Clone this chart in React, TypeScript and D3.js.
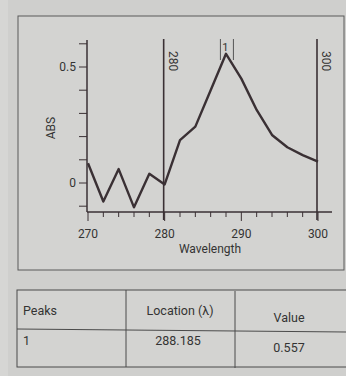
import React from "react";
import * as d3 from "d3";

const wavelengths = [270, 272, 274, 276, 278, 280, 282, 284, 286, 288, 290, 292, 294, 296, 298, 300];
const absValues = [0.085, -0.08, 0.06, -0.105, 0.04, -0.006, 0.185, 0.243, 0.4, 0.557, 0.45, 0.315, 0.207, 0.154, 0.12, 0.092];
const xTickLabels = [270, 280, 290, 300];
const yTickLabels = [0, 0.5];
const markerLines = [280, 300];
const peakLocation = 288.185;
const peakValue = 0.557;
const tableHeaders = ["Peaks", "Location (λ)", "Value"];
const tableRow = ["1", "288.185", "0.557"];

export default function App() {
  const x = d3.scaleLinear().domain([270, 300]).range([88, 318]);
  const y = d3.scaleLinear().domain([0, 0.5]).range([183, 67]);
  const yTop = y.invert(40);
  const yBottom = y.invert(212);
  const axisY = y(yBottom);
  const axisX = x(270) - 1;
  const font = "Roboto, 'Liberation Sans', Arial, sans-serif";
  const ink = "#3a3034";
  const line = d3
    .line<number>()
    .x((_, i) => x(wavelengths[i]))
    .y((d) => y(d));

  const minorX = d3.range(270, 301, 2);
  const minorY = d3.range(-0.1, 0.61, 0.1).filter((v) => v <= yTop && v >= yBottom);

  return (
    <svg width={346} height={376} style={{ position: "absolute", left: 0, top: 0 }} fontFamily={font}>
      <rect x={0} y={0} width={346} height={376} fill="#cfcfcd" />
      <rect x={0} y={0} width={8} height={376} fill="#d6d6d4" />
      <rect x={18} y={16} width={326} height={254} fill="#d3d3d1" stroke="#5a5a5a" strokeWidth={1} />

      {/* y axis */}
      <line x1={axisX} x2={axisX} y1={40} y2={axisY} stroke={ink} strokeWidth={1.5} />
      {minorY.map((v, i) => (
        <line key={"yt" + i} x1={axisX - 8} x2={axisX} y1={y(v)} y2={y(v)} stroke={ink} strokeWidth={1} />
      ))}
      {yTickLabels.map((v) => (
        <text key={"yl" + v} x={axisX - 11} y={y(v) + 4} textAnchor="end" fontSize={12} fill="#333">
          {v === 0 ? "0" : d3.format(".1f")(v)}
        </text>
      ))}
      <text transform={`translate(55,128) rotate(-90)`} textAnchor="middle" fontSize={12} fill="#333">
        ABS
      </text>

      {/* x axis */}
      <line x1={axisX} x2={332} y1={axisY} y2={axisY} stroke={ink} strokeWidth={1.5} />
      {minorX.map((v) => (
        <line
          key={"xt" + v}
          x1={x(v)}
          x2={x(v)}
          y1={axisY}
          y2={axisY + (v % 10 === 0 ? 9 : 5)}
          stroke={ink}
          strokeWidth={1}
        />
      ))}
      {xTickLabels.map((v) => (
        <text key={"xl" + v} x={x(v)} y={238} textAnchor="middle" fontSize={12} fill="#333">
          {v}
        </text>
      ))}
      <text x={210} y={253} textAnchor="middle" fontSize={12} fill="#333">
        Wavelength
      </text>

      {/* marker lines */}
      {markerLines.map((v) => (
        <g key={"m" + v}>
          <line x1={x(v) - 1} x2={x(v) - 1} y1={39} y2={axisY + 8} stroke={ink} strokeWidth={1.6} />
          <text
            transform={`translate(${x(v) + 4},61) rotate(90)`}
            textAnchor="middle"
            fontSize={12}
            fill="#333"
          >
            {v}
          </text>
        </g>
      ))}

      {/* peak bracket */}
      <line x1={x(peakLocation) - 7} x2={x(peakLocation) - 7} y1={39} y2={60} stroke="#555" strokeWidth={1} />
      <line x1={x(peakLocation) + 6} x2={x(peakLocation) + 6} y1={39} y2={60} stroke="#555" strokeWidth={1} />
      <text x={x(peakLocation) - 2} y={51} textAnchor="middle" fontSize={11} fill="#333">
        1
      </text>

      {/* spectrum */}
      <path d={line(absValues) || ""} fill="none" stroke={ink} strokeWidth={2.4} strokeLinejoin="round" />
      <circle cx={x(peakLocation)} cy={y(peakValue)} r={0} />

      {/* table */}
      <rect x={17} y={290} width={340} height={77} fill="#d3d3d1" stroke="#4a4a4a" strokeWidth={1} />
      <line x1={17} x2={346} y1={329} y2={332} stroke="#4a4a4a" strokeWidth={1} />
      <line x1={126} x2={126} y1={290} y2={367} stroke="#4a4a4a" strokeWidth={1} />
      <line x1={235} x2={235} y1={291} y2={368} stroke="#4a4a4a" strokeWidth={1} />
      <text x={23} y={315} fontSize={12.5} fill="#333">
        {tableHeaders[0]}
      </text>
      <text x={180} y={315} textAnchor="middle" fontSize={12.5} fill="#333">
        {tableHeaders[1]}
      </text>
      <text x={289} y={322} textAnchor="middle" fontSize={12.5} fill="#333">
        {tableHeaders[2]}
      </text>
      <text x={23} y={345} fontSize={12.5} fill="#333">
        {tableRow[0]}
      </text>
      <text x={178} y={345} textAnchor="middle" fontSize={12.5} fill="#333">
        {tableRow[1]}
      </text>
      <text x={289} y={352} textAnchor="middle" fontSize={12.5} fill="#333">
        {tableRow[2]}
      </text>
    </svg>
  );
}
